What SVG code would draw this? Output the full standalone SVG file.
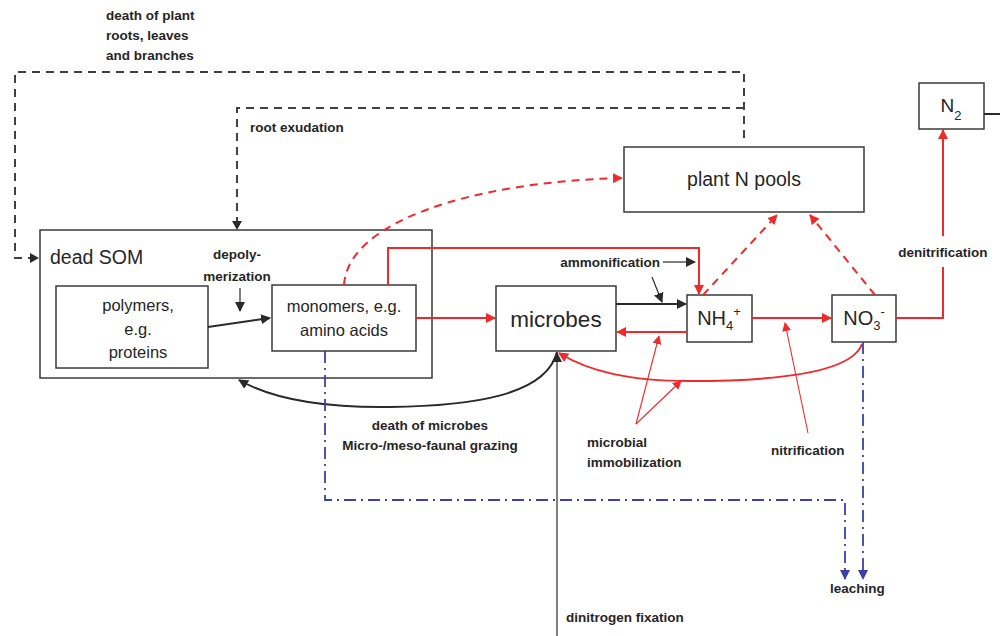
<svg xmlns="http://www.w3.org/2000/svg" width="1000" height="636" viewBox="0 0 1000 636">
<style>
.box{fill:#fff;stroke:#3a3a3a;stroke-width:1.5}
.t{font-family:"Liberation Sans",Arial,sans-serif;fill:#262626}
.lb{font-family:"Liberation Sans",Arial,sans-serif;font-weight:bold;font-size:13.5px;fill:#262626}
.blk{fill:none;stroke:#2a2a2a;stroke-width:2}
.blkthin{fill:none;stroke:#2a2a2a;stroke-width:1.2}
.dash{fill:none;stroke:#404040;stroke-width:2;stroke-dasharray:8,6}
.red{fill:none;stroke:#ee2a2a;stroke-width:2}
.redd{fill:none;stroke:#ee2a2a;stroke-width:2;stroke-dasharray:8,6}
.redthin{fill:none;stroke:#ee2a2a;stroke-width:1.1}
.blue{fill:none;stroke:#3d3fa3;stroke-width:1.8;stroke-dasharray:12,5,2,5}
</style>
<defs>
<marker id="ak" viewBox="0 0 10 10" refX="9" refY="5" markerWidth="10" markerHeight="10" markerUnits="userSpaceOnUse" orient="auto"><path d="M0,0 L10,5 L0,10 z" fill="#2a2a2a"/></marker>
<marker id="ar" viewBox="0 0 10 10" refX="9" refY="5" markerWidth="10" markerHeight="10" markerUnits="userSpaceOnUse" orient="auto"><path d="M0,0 L10,5 L0,10 z" fill="#ee2a2a"/></marker>
<marker id="arS" viewBox="0 0 10 10" refX="9" refY="5" markerWidth="9" markerHeight="9" markerUnits="userSpaceOnUse" orient="auto"><path d="M0,0 L10,5 L0,10 z" fill="#ee2a2a"/></marker>
<marker id="ab" viewBox="0 0 10 10" refX="9" refY="5" markerWidth="10" markerHeight="10" markerUnits="userSpaceOnUse" orient="auto"><path d="M0,0 L10,5 L0,10 z" fill="#3d3fa3"/></marker>
</defs>
<rect width="1000" height="636" fill="#fff"/>

<g id="dead-som">
  <rect class="box" x="40" y="230" width="392" height="148"/>
  <text class="t" x="50" y="264" font-size="19.5">dead SOM</text>
</g>
<g id="polymers">
  <rect class="box" x="56" y="286" width="152" height="82"/>
  <text class="t" font-size="16.5" text-anchor="middle"><tspan x="138" y="311">polymers,</tspan><tspan x="138" y="335">e.g.</tspan><tspan x="138" y="358">proteins</tspan></text>
</g>
<g id="monomers">
  <rect class="box" x="272" y="285" width="144" height="66"/>
  <text class="t" font-size="16.5" text-anchor="middle"><tspan x="344" y="312">monomers, e.g.</tspan><tspan x="344" y="336">amino acids</tspan></text>
</g>
<g id="microbes">
  <rect class="box" x="496" y="286" width="120" height="65"/>
  <text class="t" x="556" y="327" font-size="22.5" text-anchor="middle">microbes</text>
</g>
<g id="nh4">
  <rect class="box" x="687" y="295" width="65" height="47"/>
  <text class="t" x="719" y="325" font-size="20" text-anchor="middle">NH<tspan font-size="13" dy="5">4</tspan><tspan font-size="13" dy="-14">+</tspan></text>
</g>
<g id="no3">
  <rect class="box" x="832" y="295" width="64" height="47"/>
  <text class="t" x="864" y="325" font-size="20" text-anchor="middle">NO<tspan font-size="13" dy="5">3</tspan><tspan font-size="13" dy="-14">-</tspan></text>
</g>
<g id="plant-n-pools">
  <rect class="box" x="624" y="147" width="240" height="65"/>
  <text class="t" x="744" y="186" font-size="19.5" text-anchor="middle">plant N pools</text>
</g>
<g id="n2">
  <rect class="box" x="919" y="83" width="65" height="46"/>
  <text class="t" x="951" y="112" font-size="19" text-anchor="middle">N<tspan font-size="13" dy="8">2</tspan></text>
</g>

<g id="connectors">
  <path class="dash" d="M744,138 V72 H15 V258 H30"/>
  <path d="M30,253 L39,258 L30,263 z" fill="#2a2a2a"/>
  <path class="dash" d="M744,108 H237 V222"/>
  <path d="M232,221 L237,230 L242,221 z" fill="#2a2a2a"/>
  <path class="blk" d="M208,327 L270,318" marker-end="url(#ak)"/>
  <path class="blkthin" d="M240,288 V311" marker-end="url(#ak)"/>
  <path class="red" d="M416,318 H495" marker-end="url(#ar)"/>
  <path class="red" d="M388,285 V248 H699 V294" marker-end="url(#ar)"/>
  <path class="redd" d="M344,285 C348,222 470,182 622,178" marker-end="url(#ar)"/>
  <path class="blkthin" d="M663,262 H695" marker-end="url(#ak)"/>
  <path class="blkthin" d="M652,277 L662,302" marker-end="url(#ak)"/>
  <path class="blk" d="M616,304 H686" marker-end="url(#ak)"/>
  <path class="red" d="M687,332 H617" marker-end="url(#ar)"/>
  <path class="red" d="M752,318 H831" marker-end="url(#ar)"/>
  <path class="redd" d="M703,295 L777,215" marker-end="url(#ar)"/>
  <path class="redd" d="M875,295 L810,215" marker-end="url(#ar)"/>
  <path class="red" d="M896,318 H943 V267"/>
  <path class="red" d="M943,236 V130" marker-end="url(#ar)"/>
  <path class="blk" d="M984,114 H1000"/>
  <path class="red" d="M862,344 C852,372 780,381 690,381 C630,381 590,372 559,353" marker-end="url(#ar)"/>
  <path class="blk" d="M557,352 C546,396 470,406 390,407 C320,408 272,399 239,380" marker-end="url(#ak)"/>
  <path class="blkthin" d="M557,636 V353" marker-end="url(#ak)"/>
  <path class="redthin" d="M636,424 L659,336" marker-end="url(#arS)"/>
  <path class="redthin" d="M636,424 L681,381" marker-end="url(#arS)"/>
  <path class="redthin" d="M808,433 L785,323" marker-end="url(#arS)"/>
  <path class="blue" d="M325,351 V500 H845 V579" marker-end="url(#ab)"/>
  <path class="blue" d="M863,342 V579" marker-end="url(#ab)"/>
</g>

<g id="labels">
  <text class="lb"><tspan x="106" y="20">death of plant</tspan><tspan x="106" y="40">roots, leaves</tspan><tspan x="106" y="60">and branches</tspan></text>
  <text class="lb" x="250" y="132">root exudation</text>
  <text class="lb" text-anchor="middle"><tspan x="237" y="259">depoly-</tspan><tspan x="237" y="281">merization</tspan></text>
  <text class="lb" x="660" y="267" text-anchor="end">ammonification</text>
  <text class="lb" x="943" y="257" text-anchor="middle">denitrification</text>
  <text class="lb" text-anchor="middle"><tspan x="430" y="430">death of microbes</tspan><tspan x="430" y="450">Micro-/meso-faunal grazing</tspan></text>
  <text class="lb"><tspan x="587" y="447">microbial</tspan><tspan x="587" y="467">immobilization</tspan></text>
  <text class="lb" x="771" y="455">nitrification</text>
  <text class="lb" x="830" y="593">leaching</text>
  <text class="lb" x="566" y="622">dinitrogen fixation</text>
</g>
</svg>
